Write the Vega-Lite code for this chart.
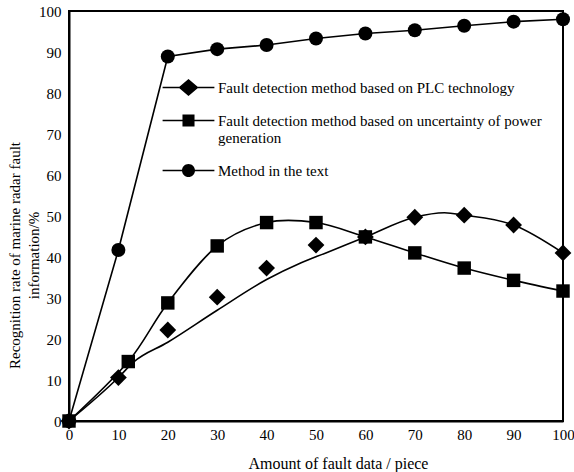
{
  "$schema": "https://vega.github.io/schema/vega-lite/v6.json",
  "width": 494,
  "height": 410,
  "autosize": {"type": "none"},
  "padding": {"left": 69, "top": 11, "right": 11, "bottom": 51},
  "background": "white",
  "config": {
    "view": {"stroke": "black", "strokeWidth": 2},
    "font": "Liberation Serif",
    "axis": {
      "domainColor": "black",
      "domainWidth": 2,
      "ticks": false,
      "grid": false,
      "labelFlush": false,
      "labelFont": "Liberation Serif",
      "labelFontSize": 15,
      "labelColor": "black",
      "titleFont": "Liberation Serif",
      "titleFontWeight": "normal",
      "titleColor": "black"
    }
  },
  "datasets": {
    "points": [
      {"series": "Fault detection method based on PLC technology", "x": 0, "y": 0},
      {"series": "Fault detection method based on PLC technology", "x": 10, "y": 10.6},
      {"series": "Fault detection method based on PLC technology", "x": 20, "y": 22.2},
      {"series": "Fault detection method based on PLC technology", "x": 30, "y": 30.2},
      {"series": "Fault detection method based on PLC technology", "x": 40, "y": 37.3},
      {"series": "Fault detection method based on PLC technology", "x": 50, "y": 42.9},
      {"series": "Fault detection method based on PLC technology", "x": 60, "y": 44.9},
      {"series": "Fault detection method based on PLC technology", "x": 70, "y": 49.7},
      {"series": "Fault detection method based on PLC technology", "x": 80, "y": 50.2},
      {"series": "Fault detection method based on PLC technology", "x": 90, "y": 47.8},
      {"series": "Fault detection method based on PLC technology", "x": 100, "y": 41.0},
      {"series": "Fault detection method based on uncertainty of  power generation", "x": 0, "y": 0},
      {"series": "Fault detection method based on uncertainty of  power generation", "x": 12, "y": 14.5},
      {"series": "Fault detection method based on uncertainty of  power generation", "x": 20, "y": 28.8},
      {"series": "Fault detection method based on uncertainty of  power generation", "x": 30, "y": 42.7},
      {"series": "Fault detection method based on uncertainty of  power generation", "x": 40, "y": 48.4},
      {"series": "Fault detection method based on uncertainty of  power generation", "x": 50, "y": 48.4},
      {"series": "Fault detection method based on uncertainty of  power generation", "x": 60, "y": 44.9},
      {"series": "Fault detection method based on uncertainty of  power generation", "x": 70, "y": 41.0},
      {"series": "Fault detection method based on uncertainty of  power generation", "x": 80, "y": 37.3},
      {"series": "Fault detection method based on uncertainty of  power generation", "x": 90, "y": 34.3},
      {"series": "Fault detection method based on uncertainty of  power generation", "x": 100, "y": 31.7},
      {"series": "Method in the text", "x": 0, "y": 0},
      {"series": "Method in the text", "x": 10, "y": 41.7},
      {"series": "Method in the text", "x": 20, "y": 88.9},
      {"series": "Method in the text", "x": 30, "y": 90.7},
      {"series": "Method in the text", "x": 40, "y": 91.7},
      {"series": "Method in the text", "x": 50, "y": 93.3},
      {"series": "Method in the text", "x": 60, "y": 94.5},
      {"series": "Method in the text", "x": 70, "y": 95.3},
      {"series": "Method in the text", "x": 80, "y": 96.4},
      {"series": "Method in the text", "x": 90, "y": 97.4},
      {"series": "Method in the text", "x": 100, "y": 98.0}
    ],
    "curve": [
      {"x": 0, "y": 0},
      {"x": 10, "y": 10.6},
      {"x": 13, "y": 14.3},
      {"x": 20, "y": 19.2},
      {"x": 30, "y": 27.0},
      {"x": 40, "y": 34.5},
      {"x": 47, "y": 38.6},
      {"x": 52, "y": 41.0},
      {"x": 60, "y": 44.9},
      {"x": 70, "y": 49.7},
      {"x": 76, "y": 50.8},
      {"x": 80, "y": 50.2},
      {"x": 90, "y": 47.8},
      {"x": 100, "y": 41.0}
    ]
  },
  "encoding": {
    "x": {
      "field": "x",
      "type": "quantitative",
      "scale": {"domain": [0, 100], "nice": false, "zero": false},
      "axis": {
        "values": [0, 10, 20, 30, 40, 50, 60, 70, 80, 90, 100],
        "labelPadding": 6,
        "title": "Amount of fault data / piece",
        "titleFontSize": 16,
        "titleX": 269,
        "titleY": 42,
        "titleAlign": "center",
        "titleBaseline": "middle"
      }
    },
    "y": {
      "field": "y",
      "type": "quantitative",
      "scale": {"domain": [0, 100], "nice": false, "zero": false},
      "axis": {
        "values": [0, 10, 20, 30, 40, 50, 60, 70, 80, 90, 100],
        "labelPadding": 8,
        "title": ["Recognition rate of marine radar fault", "information/%"],
        "titleFontSize": 15,
        "titleX": -55,
        "titleY": 244,
        "titleAngle": -90,
        "titleAlign": "center",
        "titleBaseline": "middle",
        "titleLineHeight": 19
      }
    }
  },
  "resolve": {"scale": {"shape": "independent"}},
  "layer": [
    {
      "data": {"name": "points"},
      "transform": [{"filter": "datum.series === 'Method in the text'"}],
      "mark": {"type": "line", "color": "black", "strokeWidth": 1.6}
    },
    {
      "data": {"name": "points"},
      "transform": [{"filter": "indexof(datum.series, 'uncertainty') >= 0"}],
      "mark": {"type": "line", "color": "black", "strokeWidth": 1.6, "interpolate": "cardinal"}
    },
    {
      "data": {"name": "curve"},
      "mark": {"type": "line", "color": "black", "strokeWidth": 1.6, "interpolate": "monotone"}
    },
    {
      "data": {"name": "points"},
      "mark": {"type": "point", "filled": true, "color": "black", "opacity": 1, "size": 196},
      "encoding": {
        "shape": {
          "field": "series",
          "type": "nominal",
          "scale": {
            "domain": [
              "Fault detection method based on PLC technology",
              "Fault detection method based on uncertainty of  power generation",
              "Method in the text"
            ],
            "range": [
              "M0,-1.2L1.2,0L0,1.2L-1.2,0Z",
              "M-0.96,-0.96H0.96V0.96H-0.96Z",
              "circle"
            ]
          },
          "legend": null
        }
      }
    },
    {
      "data": {"name": "points"},
      "transform": [{"filter": "false"}],
      "mark": {"type": "point", "filled": true, "color": "black", "opacity": 1, "size": 196},
      "encoding": {
        "shape": {
          "field": "series",
          "type": "nominal",
          "scale": {
            "domain": [
              "Fault detection method based on PLC technology",
              "Fault detection method based on uncertainty of  power generation",
              "Method in the text"
            ],
            "range": [
              "M-3.7,-0.1H3.7V0.1H-3.7Z M0,-1.21L1.43,0L0,1.21L-1.43,0Z",
              "M-3.7,-0.1H3.7V0.1H-3.7Z M-0.86,-0.86H0.86V0.86H-0.86Z",
              "M-3.7,-0.1H3.7V0.1H-3.7Z M-0.93,0A0.93,0.93 0 1,1 0.93,0A0.93,0.93 0 1,1 -0.93,0Z"
            ]
          },
          "legend": {
            "orient": "none",
            "legendX": 112,
            "legendY": 69,
            "title": null,
            "padding": 0,
            "labelFont": "Liberation Serif",
            "labelFontSize": 15,
            "labelColor": "black",
            "labelLimit": 500,
            "labelOffset": 22,
            "rowPadding": 17,
            "symbolSize": 196,
            "symbolStrokeWidth": 0,
            "symbolFillColor": "black",
            "symbolOpacity": 1,
            "labelExpr": "indexof(datum.label, 'uncertainty') >= 0 ? ['Fault detection method based on uncertainty of  power', 'generation'] : datum.label"
          }
        }
      }
    }
  ]
}
